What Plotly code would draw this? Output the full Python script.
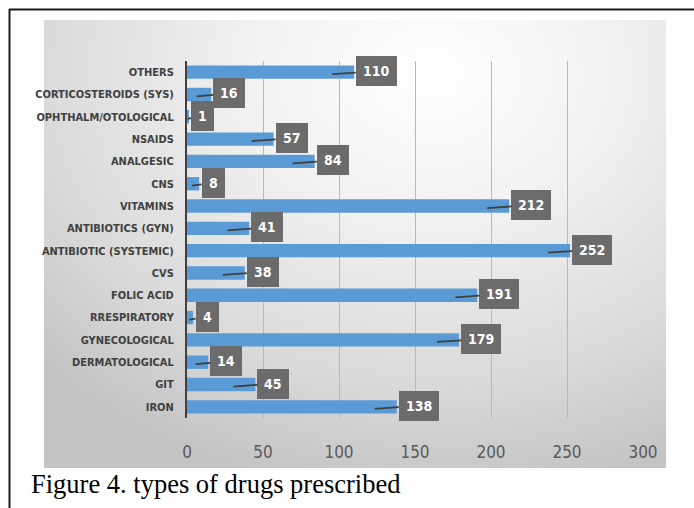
import base64
import plotly.graph_objects as go

# Drug categories, listed from the bottom row of the chart to the top row
categories = [
    "IRON", "GIT", "DERMATOLOGICAL", "GYNECOLOGICAL", "RRESPIRATORY",
    "FOLIC ACID", "CVS", "ANTIBIOTIC (SYSTEMIC)", "ANTIBIOTICS (GYN)",
    "VITAMINS", "CNS", "ANALGESIC", "NSAIDS", "OPHTHALM/OTOLOGICAL",
    "CORTICOSTEROIDS (SYS)", "OTHERS",
]
counts = [138, 45, 14, 179, 4, 191, 38, 252, 41, 212, 8, 84, 57, 1, 16, 110]
x_ticks = [0, 50, 100, 150, 200, 250, 300]
caption = "Figure 4. types of drugs prescribed"

W, H = 694, 508
ML, MR, MT, MB = 187, 51, 61, 90
PW, PH = W - ML - MR, H - MT - MB
X_MAX = 300

NARROW = "DejaVu Sans Condensed, Liberation Sans Narrow, Arial Narrow, sans-serif"


def px_to_paper_x(px):
    return (px - ML) / PW


def px_to_paper_y(py):
    return 1 - (py - MT) / PH


# Soft radial grey backdrop behind the chart
svg = (
    '<svg xmlns="http://www.w3.org/2000/svg" width="622" height="448" '
    'viewBox="0 0 622 448" preserveAspectRatio="none">'
    '<defs><radialGradient id="g" cx="0.62" cy="0.12" r="0.85" '
    'gradientTransform="translate(0.62 0.12) scale(1 1.1) translate(-0.62 -0.12)">'
    '<stop offset="0" stop-color="#ffffff"/>'
    '<stop offset="0.35" stop-color="#f1f1f1"/>'
    '<stop offset="0.75" stop-color="#d9d9d9"/>'
    '<stop offset="1" stop-color="#c4c4c4"/>'
    '</radialGradient></defs>'
    '<rect width="622" height="448" fill="url(#g)"/></svg>'
)
bg_uri = "data:image/svg+xml;base64," + base64.b64encode(svg.encode()).decode()

fig = go.Figure(
    go.Bar(
        x=counts,
        y=categories,
        orientation="h",
        marker=dict(color="#5b9bd5", line=dict(width=0)),
        width=0.6,
        hoverinfo="x+y",
    )
)

# Callout-style value labels with a short tail into each bar
px_per_unit = PW / X_MAX
for cat, v in zip(categories, counts):
    n = len(str(v))
    box_w = 8 * n + 10
    bar_px = v * px_per_unit
    tail = min(22, bar_px * 0.6)
    fig.add_annotation(
        x=v, y=cat, xref="x", yref="y",
        text=f"<b>{v}</b>",
        showarrow=True, arrowhead=0, arrowwidth=1.8, arrowcolor="#3f3f3f",
        axref="pixel", ayref="pixel",
        ax=tail + 5 + box_w / 2, ay=-3,
        xshift=-tail, yshift=-2,
        bgcolor="#6b6b6b", borderpad=7, borderwidth=0,
        font=dict(family=NARROW, size=14, color="white"),
        standoff=0,
    )

fig.add_annotation(
    x=px_to_paper_x(29), y=px_to_paper_y(484), xref="paper", yref="paper",
    xanchor="left", yanchor="middle", showarrow=False,
    text=caption,
    font=dict(family="Liberation Serif, Times New Roman, serif", size=26.5, color="black"),
)

fig.add_layout_image(
    source=bg_uri, xref="paper", yref="paper",
    x=px_to_paper_x(44), y=px_to_paper_y(20),
    sizex=(666 - 44) / PW, sizey=(468 - 20) / PH,
    xanchor="left", yanchor="top", sizing="stretch", layer="below",
)

# Outer frame: top and left rules
fig.add_shape(type="line", xref="paper", yref="paper",
              x0=px_to_paper_x(9), x1=px_to_paper_x(700),
              y0=px_to_paper_y(9.5), y1=px_to_paper_y(9.5),
              line=dict(color="#1a1a1a", width=2))
fig.add_shape(type="line", xref="paper", yref="paper",
              x0=px_to_paper_x(9.5), x1=px_to_paper_x(9.5),
              y0=px_to_paper_y(9), y1=px_to_paper_y(515),
              line=dict(color="#1a1a1a", width=2))

fig.update_layout(
    width=W, height=H,
    margin=dict(l=ML, r=MR, t=MT, b=MB, pad=0),
    paper_bgcolor="white",
    plot_bgcolor="rgba(0,0,0,0)",
    showlegend=False,
    bargap=0.4,
    xaxis=dict(
        range=[0, X_MAX], autorange=False, tickvals=x_ticks,
        showgrid=True, gridcolor="#b8b8b8", gridwidth=1,
        zeroline=False, showline=False, ticks="",
        tickfont=dict(family=NARROW, size=17, color="#595959"),
        ticklabelstandoff=22,
    ),
    yaxis=dict(
        categoryorder="array", categoryarray=categories,
        range=[-0.5, len(categories) - 0.5], autorange=False,
        showgrid=False, zeroline=False,
        showline=True, linecolor="#404040", linewidth=2,
        ticks="",
        tickfont=dict(family=NARROW, size=11, color="#404040", weight="bold"),
        ticklabelstandoff=9,
    ),
)

fig.write_html("out.html")
